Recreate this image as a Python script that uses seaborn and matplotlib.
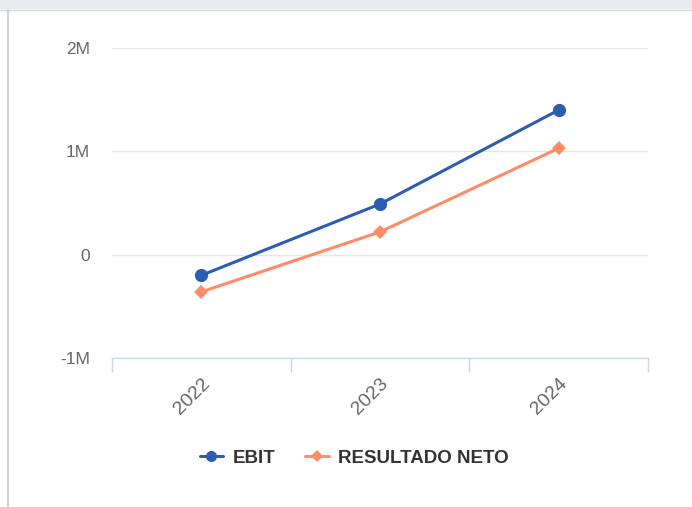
import matplotlib
matplotlib.use("Agg")
import matplotlib.pyplot as plt
import seaborn as sns
import pandas as pd
from matplotlib.lines import Line2D
from matplotlib.patches import Rectangle
from matplotlib.ticker import FuncFormatter, FixedLocator

years = ["2022", "2023", "2024"]
ebit = [-200000, 490000, 1400000]
resultado_neto = [-360000, 220000, 1030000]
y_ticks = [-1000000, 0, 1000000, 2000000]

blue = "#2b5db3"
salmon = "#ff8c69"

sns.set_theme(style="white")
plt.rcParams["font.family"] = ["Liberation Sans", "DejaVu Sans"]

df = pd.DataFrame({
    "year": years * 2,
    "value": ebit + resultado_neto,
    "serie": ["EBIT"] * 3 + ["RESULTADO NETO"] * 3,
})

fig = plt.figure(figsize=(6.92, 5.07), dpi=100)
ax = fig.add_axes([112 / 692, 1 - 358 / 507, (648 - 112) / 692, (358 - 48) / 507])

sns.lineplot(data=df, x="year", y="value", hue="serie", style="serie",
             palette={"EBIT": blue, "RESULTADO NETO": salmon},
             markers={"EBIT": "o", "RESULTADO NETO": "D"},
             dashes=False, linewidth=2.2, markersize=9.5, markeredgewidth=0,
             legend=False, ax=ax, sort=False)
# smaller diamonds
for line in ax.get_lines():
    if line.get_marker() == "D":
        line.set_markersize(7)

ax.set_xlim(-0.5, len(years) - 0.5)
ax.set_ylim(-1000000, 2000000)
ax.set_xlabel("")
ax.set_ylabel("")

ax.yaxis.set_major_locator(FixedLocator(y_ticks))
ax.yaxis.set_major_formatter(FuncFormatter(lambda v, p: "0" if v == 0 else f"{int(v / 1e6)}M"))
ax.yaxis.grid(True, color="#e6e6e6", linewidth=1)
ax.set_axisbelow(True)
ax.tick_params(axis="y", length=0, pad=16, labelsize=12.5, labelcolor="#666666")

ax.set_xticks(range(len(years)))
ax.set_xticklabels(years, rotation=45, ha="right", rotation_mode="anchor")
ax.set_xticks([i - 0.5 for i in range(len(years) + 1)], minor=True)
ax.tick_params(axis="x", which="major", length=0, pad=12, labelsize=14, labelcolor="#666666")
ax.tick_params(axis="x", which="minor", bottom=True, length=10, width=1, color="#ccd6eb", direction="out")

for s in ["top", "right", "left"]:
    ax.spines[s].set_visible(False)
ax.spines["bottom"].set_color("#ccd6eb")
ax.spines["bottom"].set_linewidth(1)

handles = [
    Line2D([], [], color=blue, marker="o", markersize=8, linewidth=2.2, markeredgewidth=0),
    Line2D([], [], color=salmon, marker="D", markersize=6, linewidth=2.2, markeredgewidth=0),
]
fig.legend(handles, ["EBIT", "RESULTADO NETO"], loc="center", bbox_to_anchor=(354 / 692, 1 - 458 / 507),
           ncol=2, frameon=False, handlelength=1.25, columnspacing=1.6, handletextpad=0.5,
           prop={"weight": "bold", "size": 13.5}, labelcolor="#333333")

# frame decorations: top band and left border
fig.add_artist(Rectangle((0, 1 - 9 / 507), 1, 9 / 507, transform=fig.transFigure,
                         facecolor="#e6eaed", edgecolor="none"))
fig.add_artist(Line2D([0, 1], [1 - 9.5 / 507] * 2, transform=fig.transFigure, color="#cfd4d8", linewidth=1))
fig.add_artist(Line2D([8 / 692] * 2, [0, 1 - 9.5 / 507], transform=fig.transFigure, color="#cfd4d8", linewidth=1.5))

fig.savefig("out.png", dpi=100)
